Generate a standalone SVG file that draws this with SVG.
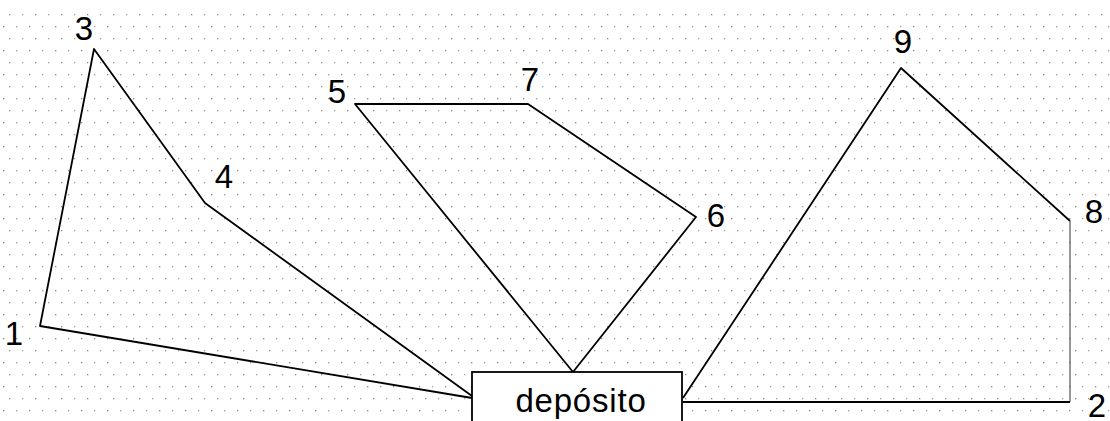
<svg xmlns="http://www.w3.org/2000/svg" width="1110" height="421" viewBox="0 0 1110 421">
  <style>
    .edge { fill: none; stroke: #000; stroke-width: 1.8; stroke-linejoin: round; }
    .thin { fill: none; stroke: #555; stroke-width: 1.2; }
    .lbl { font-family: "Liberation Sans", Arial, sans-serif; font-size: 33px; fill: #000; text-anchor: middle; }
    .box { fill: #fff; stroke: #000; stroke-width: 1.8; }
  </style>
  <defs>
    <!-- speckled drafting grid -->
    <pattern id="dots" x="3" y="2" width="26" height="24" patternUnits="userSpaceOnUse">
      <rect x="0" y="0" width="1.3" height="1.3" fill="#8a8a8a"/>
      <rect x="13" y="0" width="1.3" height="1.3" fill="#9a9a9a"/>
      <rect x="6" y="12" width="1.3" height="1.3" fill="#8a8a8a"/>
      <rect x="19" y="12" width="1.3" height="1.3" fill="#a0a0a0"/>
    </pattern>
  </defs>

  <rect width="1110" height="421" fill="#fff"/>
  <rect x="0" y="12" width="1110" height="409" fill="url(#dots)"/>

  <g id="connectors">
    <!-- left loop: deposito - 1 - 3 - 4 - deposito -->
    <polyline class="edge" points="472,398 40,326 94,49 205,203 472,396"/>
    <!-- middle loop: deposito - 5 - 7 - 6 - deposito -->
    <polyline class="edge" points="573,372 355,104 528,104 696,217 573,372"/>
    <!-- right loop: deposito - 9 - 8 - 2 - deposito -->
    <polyline class="edge" points="683,398 901,68 1070,221"/>
    <line class="thin" x1="1070" y1="221" x2="1070" y2="402"/>
    <line class="edge" x1="683" y1="402" x2="1070" y2="402"/>
  </g>

  <g id="deposito">
    <rect class="box" x="472" y="372" width="210" height="60"/>
    <text class="lbl" x="581" y="412" letter-spacing="0.8">depósito</text>
  </g>

  <g id="node-1"><text class="lbl" x="14" y="345">1</text></g>
  <g id="node-2"><text class="lbl" x="1097" y="417">2</text></g>
  <g id="node-3"><text class="lbl" x="84" y="40">3</text></g>
  <g id="node-4"><text class="lbl" x="224" y="188">4</text></g>
  <g id="node-5"><text class="lbl" x="337" y="103">5</text></g>
  <g id="node-6"><text class="lbl" x="716" y="227">6</text></g>
  <g id="node-7"><text class="lbl" x="530" y="91">7</text></g>
  <g id="node-8"><text class="lbl" x="1094" y="223">8</text></g>
  <g id="node-9"><text class="lbl" x="903" y="53">9</text></g>
</svg>
